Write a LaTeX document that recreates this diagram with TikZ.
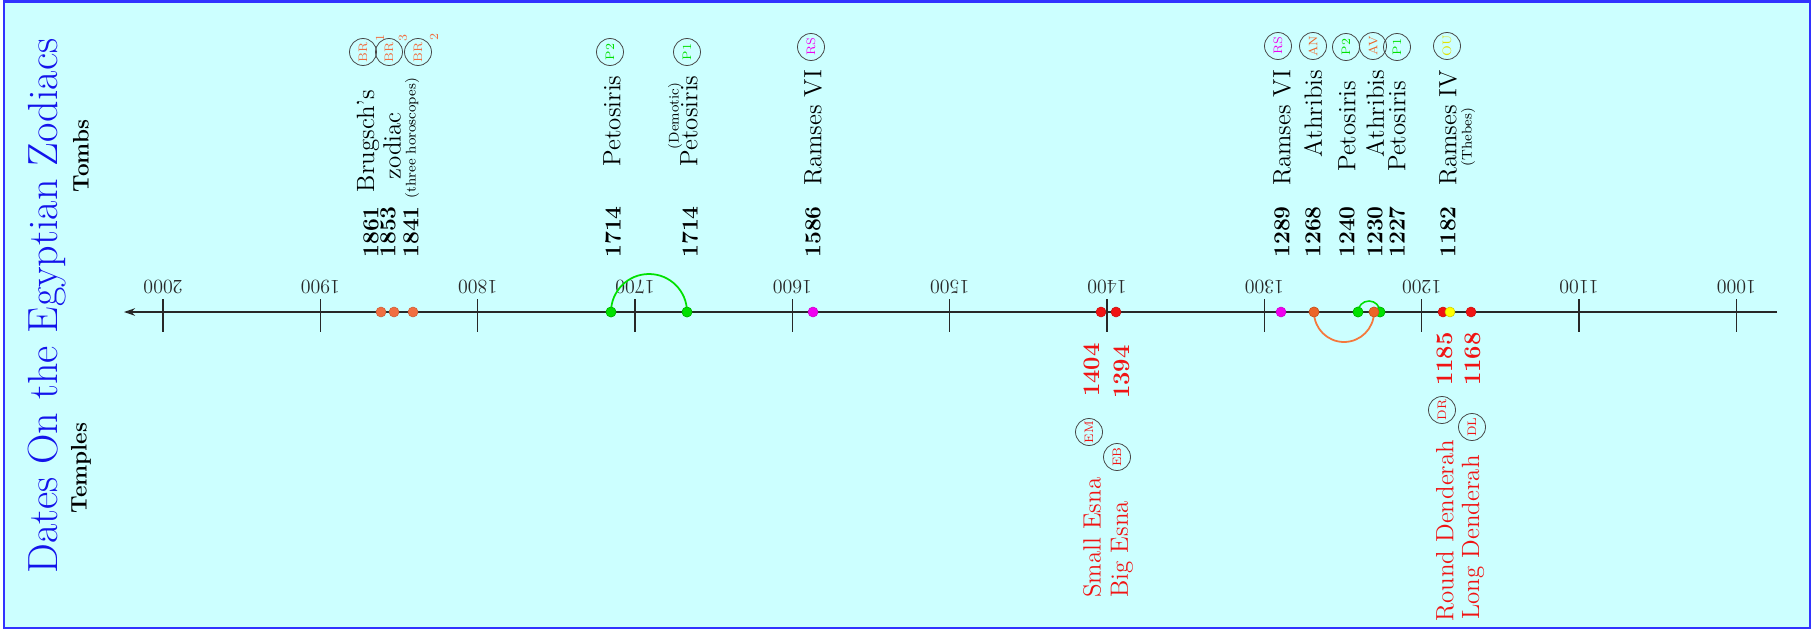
\documentclass[tikz,border=0pt]{standalone}
\usepackage{fontspec}
\usetikzlibrary{arrows.meta}
\definecolor{bgc}{RGB}{204,255,255}
\definecolor{borderc}{RGB}{50,50,255}
\definecolor{titlec}{RGB}{20,20,235}
\definecolor{axisc}{RGB}{40,40,40}
\definecolor{ringc}{RGB}{70,70,70}
\definecolor{redc}{RGB}{240,20,20}
\definecolor{brc}{RGB}{240,110,65}
\definecolor{athc}{RGB}{235,100,40}
\definecolor{arcor}{RGB}{245,120,60}
\definecolor{grc}{RGB}{0,225,0}
\definecolor{mgc}{RGB}{240,0,240}
\definecolor{ylc}{RGB}{255,255,0}
\definecolor{ouc}{RGB}{225,225,0}
\tikzset{
  yr/.style={font=\fontsize{13}{13}\selectfont\bfseries, rotate=90, inner sep=0pt},
  ryr/.style={yr, text=redc, font=\fontsize{13.5}{13}\selectfont\bfseries},
  nm/.style={font=\fontsize{14.2}{14}\selectfont, rotate=90, inner sep=0pt},
  rnm/.style={nm, text=redc},
  sm/.style={font=\fontsize{8}{8}\selectfont, rotate=90, inner sep=0pt},
  tag/.style={circle, draw=ringc, line width=0.45pt, minimum size=0.54cm, inner sep=0pt,
              font=\fontsize{7}{7}\selectfont, rotate=90},
  sup/.style={font=\fontsize{7}{7}\selectfont, rotate=90, inner sep=0pt, text=brc},
  dot/.style={circle, inner sep=0pt, minimum size=0.2cm, line width=0.3pt},
  ticklab/.style={font=\fontsize{11.4}{11}\selectfont, rotate=180, inner sep=0pt, text=axisc},
  hdr/.style={font=\fontsize{12.8}{12}\selectfont\bfseries, rotate=90, inner sep=0pt},
}
\begin{document}
\begin{tikzpicture}[x=0.02cm,y=-0.02cm]
\useasboundingbox (0,0) rectangle (1813,632);
\draw[draw=borderc, line width=1.2pt, fill=bgc] (4,1.5) rectangle (1810,628);

% titles
\node[rotate=90, inner sep=0pt, text=titlec, font=\fontsize{24}{24}\selectfont] (title) at (47,306) {Dates On the Egyptian Zodiacs};
\node[hdr] (tombs) at (81,156) {Tombs};
\node[hdr] (temples) at (81,468) {Temples};

% axis
\coordinate (aR) at (1777,312);
\coordinate (aL) at (124,312);
\draw[axisc, line width=0.85pt, -{Stealth[length=0.22cm,width=0.15cm]}] (aR) -- (aL);
\foreach \k in {0,...,10}{
  \pgfmathsetmacro\xx{163+157.33*\k}
  \pgfmathtruncatemacro\yy{2000-100*\k}
  \draw[axisc, line width=0.85pt] (\xx,299) -- (\xx,332);
  \node[ticklab] (t\k) at (\xx,287) {\yy};
}

% dots
\node[dot, fill=brc, draw=brc!85!black] (d1861) at (381,312) {};
\node[dot, fill=brc, draw=brc!85!black] (d1853) at (394,312) {};
\node[dot, fill=brc, draw=brc!85!black] (d1841) at (413,312) {};
\node[dot, fill=grc, draw=grc!80!black] (dP2a) at (611,312) {};
\node[dot, fill=grc, draw=grc!80!black] (dP1a) at (687,312) {};
\node[dot, fill=mgc, draw=mgc!85!black] (dRSa) at (813,312) {};
\node[dot, fill=redc, draw=redc!85!black] (dEM) at (1101,312) {};
\node[dot, fill=redc, draw=redc!85!black] (dEB) at (1116,312) {};
\node[dot, fill=mgc, draw=mgc!85!black] (dRSb) at (1281,312) {};
\node[dot, fill=athc, draw=athc!85!black] (dAN) at (1314,312) {};
\node[dot, fill=grc, draw=grc!80!black] (dP2b) at (1358,312) {};
\node[dot, fill=grc, draw=grc!80!black] (dP1b) at (1380,312) {};
\node[dot, fill=athc, draw=athc!85!black] (dAV) at (1374,312) {};
\node[dot, fill=redc, draw=redc!85!black] (dDR) at (1443,312) {};
\node[dot, fill=ylc, draw=ylc!80!black] (dOU) at (1450,312) {};
\node[dot, fill=redc, draw=redc!85!black] (dDL) at (1471,312) {};

% arcs
\draw[grc, line width=1pt] (dP2a.center) arc[start angle=180, end angle=0, radius=0.76cm];
\draw[arcor, line width=1pt] (dAN.center) arc[start angle=180, end angle=360, radius=0.6cm];
\draw[grc, line width=0.9pt] (dP2b.center) arc[start angle=180, end angle=0, radius=0.22cm];
\node[dot, fill=grc, draw=grc!80!black] at (dP2a) {};
\node[dot, fill=grc, draw=grc!80!black] at (dP1a) {};
\node[dot, fill=athc, draw=athc!85!black] at (dAN) {};
\node[dot, fill=grc, draw=grc!80!black] at (dP2b) {};
\node[dot, fill=grc, draw=grc!80!black] at (dP1b) {};
\node[dot, fill=athc, draw=athc!85!black] at (dAV) {};

% tombs
\node[yr, anchor=west] (y1861) at (371,258) {1861};
\node[yr, anchor=west] (y1853) at (388,258) {1853};
\node[yr, anchor=west] (y1841) at (411,258) {1841};
\node[nm] (n1861) at (368,141) {Brugsch's};
\node[nm] (n1853) at (392,146) {zodiac};
\node[sm] (n1841) at (412,138) {(three horoscopes)};

\node[yr, anchor=west] (y1714a) at (613,258) {1714};
\node[nm] (n1714a) at (612,121) {Petosiris};
\node[yr, anchor=west] (y1714b) at (690,258) {1714};
\node[nm] (n1714b) at (689,121) {Petosiris};
\node[sm] (m1714b) at (675,116) {(Demotic)};

\node[yr, anchor=west] (y1586) at (813,258) {1586};
\node[nm] (n1586) at (813,128) {Ramses VI};

\node[yr, anchor=west] (y1289) at (1282,258) {1289};
\node[nm] (n1289) at (1282,128) {Ramses VI};
\node[yr, anchor=west] (y1268) at (1313,258) {1268};
\node[nm] (n1268) at (1313,113.5) {Athribis};
\node[yr, anchor=west] (y1240) at (1347,258) {1240};
\node[nm] (n1240) at (1347,126.5) {Petosiris};
\node[yr, anchor=west] (y1230) at (1375,258) {1230};
\node[nm] (n1230) at (1375,113.5) {Athribis};
\node[yr, anchor=west] (y1227) at (1397,258) {1227};
\node[nm] (n1227) at (1397,126.5) {Petosiris};
\node[yr, anchor=west] (y1182) at (1448,258) {1182};
\node[nm] (n1182) at (1448,128) {Ramses IV};
\node[sm] (m1182) at (1468,137) {(Thebes)};

% tomb tags
\node[tag, text=brc] (cBR1) at (363,52) {BR};
\node[tag, text=brc] (cBR3) at (389,52) {BR};
\node[tag, text=brc] (cBR2) at (418,52) {BR};
\node[sup] (s1) at (380,38) {1};
\node[sup] (s3) at (403,38) {3};
\node[sup] (s2) at (434,37) {2};
\node[tag, text=grc] (cP2a) at (610,52) {P2};
\node[tag, text=grc] (cP1a) at (687,52) {P1};
\node[tag, text=mgc] (cRSa) at (811,47) {RS};
\node[tag, text=mgc] (cRSb) at (1278,46) {RS};
\node[tag, text=athc] (cAN) at (1313,46) {AN};
\node[tag, text=grc] (cP2b) at (1346,47) {P2};
\node[tag, text=athc] (cAV) at (1373,46) {AV};
\node[tag, text=grc] (cP1b) at (1397,47) {P1};
\node[tag, text=ouc] (cOU) at (1447,46) {OU};

% temples
\node[ryr, anchor=east] (y1404) at (1092,343) {1404};
\node[rnm, anchor=west] (n1404) at (1092,598) {Small Esna};
\node[ryr, anchor=east] (y1394) at (1122,345) {1394};
\node[rnm, anchor=west] (n1394) at (1122,598) {Big Esna};
\node[ryr, anchor=east] (y1185) at (1445,332) {1185};
\node[rnm, anchor=west] (n1185) at (1445,622) {Round Denderah};
\node[ryr, anchor=east] (y1168) at (1473,332) {1168};
\node[rnm, anchor=west] (n1168) at (1473,620) {Long Denderah};
\node[tag, text=redc] (cEM) at (1089,432) {EM};
\node[tag, text=redc] (cEB) at (1117,457) {EB};
\node[tag, text=redc] (cDR) at (1442,410) {DR};
\node[tag, text=redc] (cDL) at (1472,427) {DL};
\end{tikzpicture}
\end{document}
